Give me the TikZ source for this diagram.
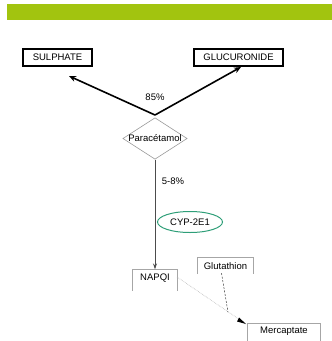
\documentclass[tikz,border=0pt]{standalone}
\usepackage{fontspec}
\setmainfont{Liberation Sans}
\usetikzlibrary{shapes.geometric,arrows.meta}
\definecolor{bargreen}{HTML}{A2C40F}
\definecolor{ellgreen}{HTML}{2E9E78}
\tikzset{
  thickbox/.style={draw=black, line width=2pt, minimum width=#1, minimum height=17pt, inner sep=0pt, font=\fontsize{9.5}{10}\selectfont},
  openbox/.style={minimum width=#1, minimum height=17pt, inner sep=0pt, font=\fontsize{9.5}{10}\selectfont},
  openside/.style={draw=gray!70, line width=0.8pt},
  lbl/.style={font=\fontsize{9.5}{10}\selectfont, inner sep=0pt},
  bigarrow/.style={line width=1.6pt, -{Stealth[length=7pt,width=6pt]}},
}
\begin{document}
\begin{tikzpicture}[x=1pt,y=-1pt]
\useasboundingbox (0,0) rectangle (332,341);
\fill[bargreen] (7,4) rectangle (332,20);
\node[thickbox=69pt] (sul) at (57.5,57.5) {SULPHATE};
\node[thickbox=89pt] (glu) at (238.5,57.5) {GLUCURONIDE};
\node[diamond, draw=gray!80, line width=0.6pt, aspect=1.55, minimum width=64pt, minimum height=41pt, inner sep=0pt, font=\fontsize{9.5}{10}\selectfont] (par) at (155,138.5) {Paracétamol};
\coordinate (apex) at (155,115);
\draw[bigarrow] (apex) -- (69,76);
\draw[bigarrow] (apex) -- (241,67);
\node[lbl] (p85) at (155,97) {85\%};
\node[lbl] (p58) at (173,181) {5-8\%};
\node[ellipse, draw=ellgreen, line width=1pt, minimum width=65pt, minimum height=21pt, inner sep=0pt, font=\fontsize{9.5}{10}\selectfont] (cyp) at (190,222) {CYP-2E1};
\node[openbox=44pt] (napqi) at (155,278) {NAPQI};
\draw[openside] ([yshift=-4pt]napqi.south west) |- (napqi.north east) -- ([yshift=-4pt]napqi.south east);
\node[openbox=55pt] (glut) at (225.5,266.5) {Glutathion};
\draw[openside] ([yshift=1pt]glut.south west) |- (glut.north east) -- ([yshift=1pt]glut.south east);
\node[openbox=72pt,anchor=north] (merc) at (284,323) {Mercaptate};
\draw[openside] ([yshift=-4pt]merc.south west) |- (merc.north east) -- ([yshift=-4pt]merc.south east);
\draw[gray!60!black, line width=0.7pt, -{Stealth[length=6pt,width=4pt]}] (par.south) -- (napqi.north);
\coordinate (mtip) at (246,324);
\coordinate (nstart) at (177,277);
\draw[gray!60, densely dotted, line width=0.6pt] (nstart) -- (mtip);
\fill[black] (mtip) -- ++(-9,-2.5) -- ++(2,-4) -- cycle;
\coordinate (meet) at (228,312);
\draw[gray!40!black, dashed, dash pattern=on 2pt off 1.5pt, line width=0.5pt] ([xshift=-4pt,yshift=2pt]glut.south) -- (meet);
\end{tikzpicture}
\end{document}
